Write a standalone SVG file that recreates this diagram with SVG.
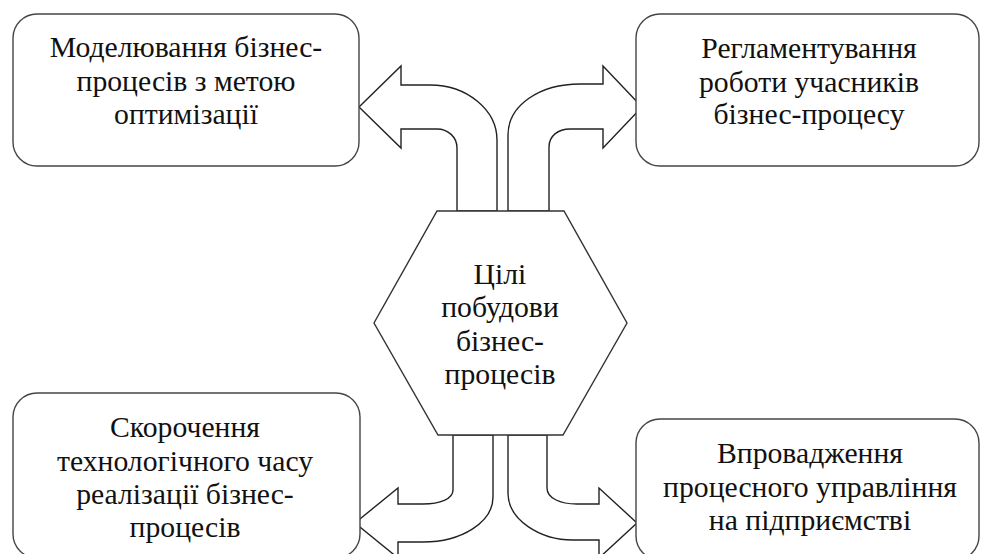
<svg xmlns="http://www.w3.org/2000/svg" width="981" height="554" viewBox="0 0 981 554" font-family="Liberation Serif, Times New Roman, serif" font-size="29.7">
<style>
.box{fill:#fff;stroke:#444;stroke-width:1.4}
.arrow{fill:#fff;stroke:#222;stroke-width:1.4;stroke-linejoin:miter}
.hex{fill:#fff;stroke:#333;stroke-width:1.4}
</style>
<rect width="981" height="554" fill="#fff"/>
<g id="connectors">
<path class="arrow" d="M497 211 L497 140 C497 110 467 85 430 85 L401 85 L401 66 L359 107 L401 148 L401 129 L437 129 C448 129 457 137 457 148 L457 211 Z"/>
<path class="arrow" d="M508 211 L508 135 C508 105 540 84 580 84 L603 84 L603 66 L642 107 L603 148 L603 129 L570 129 C558 129 549 136 549 147 L549 211 Z"/>
<path class="arrow" d="M453 435 L453 490 C453 499 440 504 423 504 L398 504 L398 488 L355 523 L398 558 L398 542 L423 542 C462 542 493 522 493 497 L493 435 Z"/>
<path class="arrow" d="M508 435 L508 493 C508 520 540 540 573 540 L599 540 L599 558 L637 523 L599 488 L599 504 L577 504 C560 504 547 498 547 488 L547 435 Z"/>
</g>
<g id="center">
<polygon class="hex" points="437,211 564,211 627,323 563,435 438,435 374,323"/>
<text x="500" y="284" font-family="Liberation Serif" text-anchor="middle" fill="#111">Цілі</text>
<text x="500" y="317" font-family="Liberation Serif" text-anchor="middle" fill="#111">побудови</text>
<text x="500" y="351" font-family="Liberation Serif" text-anchor="middle" fill="#111">бізнес-</text>
<text x="500" y="384" font-family="Liberation Serif" text-anchor="middle" fill="#111">процесів</text>
</g>
<g id="box-tl">
<rect class="box" x="13" y="14" width="346" height="152" rx="24"/>
<text x="186" y="57" font-family="Liberation Serif" text-anchor="middle" fill="#111">Моделювання бізнес-</text>
<text x="186" y="91" font-family="Liberation Serif" text-anchor="middle" fill="#111">процесів з метою</text>
<text x="186" y="124" font-family="Liberation Serif" text-anchor="middle" fill="#111">оптимізації</text>
</g>
<g id="box-tr">
<rect class="box" x="636" y="14" width="343" height="152" rx="24"/>
<text x="809" y="58" font-family="Liberation Serif" text-anchor="middle" fill="#111">Регламентування</text>
<text x="809" y="92" font-family="Liberation Serif" text-anchor="middle" fill="#111">роботи учасників</text>
<text x="809" y="124" font-family="Liberation Serif" text-anchor="middle" fill="#111">бізнес-процесу</text>
</g>
<g id="box-bl">
<rect class="box" x="13" y="393" width="347" height="165" rx="24"/>
<text x="185" y="437" font-family="Liberation Serif" text-anchor="middle" fill="#111">Скорочення</text>
<text x="185" y="471" font-family="Liberation Serif" text-anchor="middle" fill="#111">технологічного часу</text>
<text x="185" y="504" font-family="Liberation Serif" text-anchor="middle" fill="#111">реалізації бізнес-</text>
<text x="185" y="537" font-family="Liberation Serif" text-anchor="middle" fill="#111">процесів</text>
</g>
<g id="box-br">
<rect class="box" x="636" y="419" width="343" height="141" rx="24"/>
<text x="810" y="463" font-family="Liberation Serif" text-anchor="middle" fill="#111">Впровадження</text>
<text x="810" y="497" font-family="Liberation Serif" text-anchor="middle" fill="#111">процесного управління</text>
<text x="810" y="530" font-family="Liberation Serif" text-anchor="middle" fill="#111">на підприємстві</text>
</g>
</svg>
